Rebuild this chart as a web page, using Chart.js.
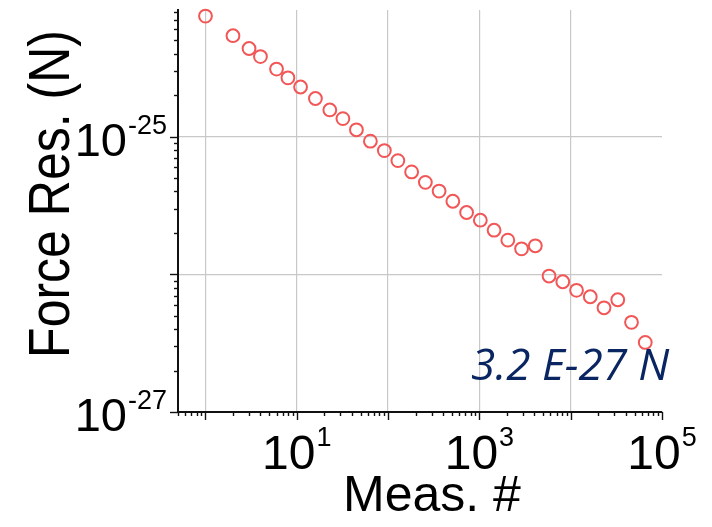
<!DOCTYPE html>
<html>
<head>
<meta charset="utf-8">
<script src="https://cdn.jsdelivr.net/npm/chart.js@4.4.1/dist/chart.umd.min.js"></script>
<style>
  html, body { margin: 0; padding: 0; background: #fff; }
</style>
</head>
<body>
<canvas id="chart1" width="712" height="527"></canvas>
<script>
// measurement number vs. force residual
const measNum = [1, 2, 3, 4, 6, 8, 11, 16, 23, 32, 45, 64, 91, 128, 181, 256, 362, 512, 724,
  1024, 1448, 2048, 2896, 4096, 5793, 8192, 11585, 16384, 23170, 32768, 46341, 65536];
const forceRes = [7.5e-25, 5.4e-25, 4.36e-25, 3.81e-25, 3.09e-25, 2.67e-25, 2.29e-25, 1.89e-25,
  1.56e-25, 1.35e-25, 1.12e-25, 9.26e-26, 7.91e-26, 6.69e-26, 5.54e-26, 4.65e-26, 4.02e-26,
  3.39e-26, 2.81e-26, 2.47e-26, 2.09e-26, 1.77e-26, 1.53e-26, 1.61e-26, 9.71e-27, 8.83e-27,
  7.65e-27, 6.87e-27, 5.71e-27, 6.53e-27, 4.48e-27, 3.2e-27];

// axis ranges, labelled decades and gridline decades
const xRange = [0.5, 1e5];
const yRange = [1e-27, 8.3e-25];
const xLabelExp = [1, 3, 5];
const yLabelExp = [-25, -27];
const xGridExp = [0, 1, 2, 3, 4];
const yGridExp = [-26, -25];

const FONT = '"Liberation Sans", Arial, sans-serif';

// 1..9 x 10^e ticks inside the range
function logTicks(min, max, gridExp) {
  let ticks = [];
  let e0 = Math.floor(Math.log10(min)), e1 = Math.ceil(Math.log10(max));
  for (let e = e0; e <= e1; e++) {
    for (let m = 1; m <= 9; m++) {
      let v = m * Math.pow(10, e);
      if (v < min * 0.999 || v > max * 1.001) continue;
      ticks.push({ value: v, decade: m === 1, major: m === 1 && gridExp.includes(e) });
    }
  }
  return ticks;
}

function drawPow(ctx, x, base, exp, big, small, supRise, align) {
  ctx.font = big + 'px ' + FONT;
  let w10 = ctx.measureText('10').width;
  ctx.font = small + 'px ' + FONT;
  let sup = String(exp);
  let wSup = ctx.measureText(sup).width;
  let start = align === 'center' ? x - (w10 + 1 + wSup) / 2 : x - (w10 + 1 + wSup);
  ctx.textAlign = 'left';
  ctx.font = big + 'px ' + FONT;
  ctx.fillText('10', start, base);
  ctx.font = small + 'px ' + FONT;
  ctx.fillText(sup, start + w10 + 1, base - supRise);
}

const decor = {
  id: 'decor',
  afterDraw(chart) {
    const ctx = chart.ctx;
    const xs = chart.scales.x, ys = chart.scales.y;
    const area = chart.chartArea;
    ctx.save();

    // tick marks, pointing out of the plot
    ctx.strokeStyle = '#111';
    ctx.lineWidth = 1.4;
    xs.ticks.forEach(t => {
      let px = Math.round(xs.getPixelForValue(t.value)) + 0.5;
      ctx.beginPath();
      ctx.moveTo(px, area.bottom);
      ctx.lineTo(px, area.bottom + (t.decade ? 8 : 4));
      ctx.stroke();
    });
    ys.ticks.forEach(t => {
      let py = Math.round(ys.getPixelForValue(t.value)) + 0.5;
      ctx.beginPath();
      ctx.moveTo(area.left, py);
      ctx.lineTo(area.left - (t.decade ? 8 : 4), py);
      ctx.stroke();
    });

    // decade labels
    ctx.fillStyle = '#000';
    ctx.textBaseline = 'alphabetic';
    xLabelExp.forEach(e => {
      let px = xs.getPixelForValue(Math.pow(10, e));
      drawPow(ctx, px, area.bottom + 57, e, 48, 27, 23, 'center');
    });
    yLabelExp.forEach(e => {
      let py = ys.getPixelForValue(Math.pow(10, e));
      drawPow(ctx, area.left - 11, py + 19, e, 47, 27, 22, 'right');
    });

    // axis titles
    ctx.textAlign = 'center';
    ctx.font = '50px ' + FONT;
    ctx.fillText('Meas. #', 432, 511);

    ctx.save();
    ctx.translate(69, 194);
    ctx.rotate(-Math.PI / 2);
    ctx.scale(1, 1.16);
    ctx.font = '50px ' + FONT;
    ctx.fillText('Force Res. (N)', 0, 0);
    ctx.restore();

    // final residual value
    let last = forceRes[forceRes.length - 1];
    let ex = Math.floor(Math.log10(last));
    let txt = (last / Math.pow(10, ex)).toFixed(1) + ' E' + ex + ' N';
    ctx.textAlign = 'left';
    ctx.fillStyle = '#0a2662';
    ctx.font = 'italic 44px "Open Sans", sans-serif';
    ctx.fillText(txt, 471, 380);

    ctx.restore();
  }
};

let points = [];
for (let i = 0; i < measNum.length; i++) {
  points.push({ x: measNum[i], y: forceRes[i] });
}

const config = {
  type: 'scatter',
  data: {
    datasets: [{
      data: points,
      showLine: false,
      pointStyle: 'circle',
      pointRadius: 6.4,
      pointBorderWidth: 2,
      pointBorderColor: '#f25656',
      pointBackgroundColor: 'rgba(255,255,255,0)',
      clip: false
    }]
  },
  options: {
    responsive: false,
    animation: false,
    layout: { padding: { left: 178, right: 50, top: 10, bottom: 115 } },
    plugins: { legend: { display: false }, tooltip: { enabled: false } },
    scales: {
      x: {
        type: 'logarithmic',
        min: xRange[0],
        max: xRange[1],
        afterBuildTicks: s => { s.ticks = logTicks(xRange[0], xRange[1], xGridExp); },
        ticks: { display: false },
        grid: {
          drawTicks: false,
          lineWidth: 1.2,
          color: c => (c.tick && c.tick.major ? '#c8c8c8' : 'rgba(0,0,0,0)')
        },
        border: { color: '#111', width: 2 }
      },
      y: {
        type: 'logarithmic',
        min: yRange[0],
        max: yRange[1],
        afterBuildTicks: s => { s.ticks = logTicks(yRange[0], yRange[1], yGridExp); },
        ticks: { display: false },
        grid: {
          drawTicks: false,
          lineWidth: 1.2,
          color: c => (c.tick && c.tick.major ? '#c8c8c8' : 'rgba(0,0,0,0)')
        },
        border: { color: '#111', width: 2 }
      }
    }
  },
  plugins: [decor]
};

const myChart = new Chart(document.getElementById('chart1'), config);
</script>
</body>
</html>
